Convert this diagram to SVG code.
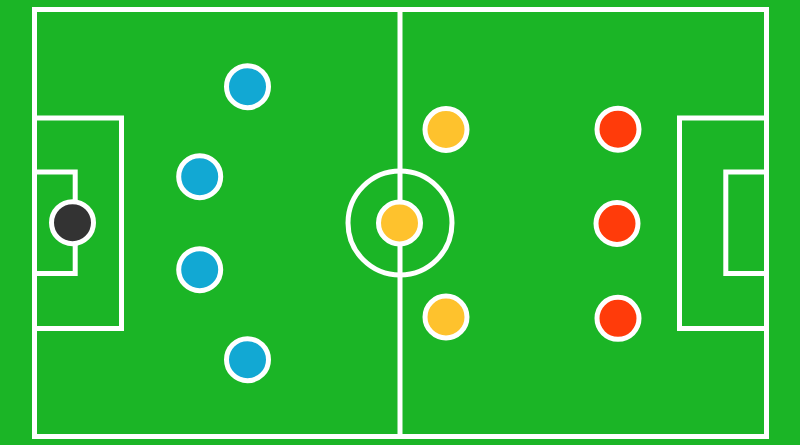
<svg xmlns="http://www.w3.org/2000/svg" width="800" height="445" viewBox="0 0 800 445">
<style>
.line{fill:none;stroke:#ffffff;stroke-width:5}
.p{stroke:#ffffff;stroke-width:5}
.blue{fill:#12A8D3}
.yellow{fill:#FEC22D}
.red{fill:#FF3B0A}
.gk{fill:#333333}
</style>
<rect x="0" y="0" width="800" height="445" fill="#1BB526"/>
<g id="pitch">
<rect class="line" x="34.5" y="9.5" width="732" height="427"/>
<line class="line" x1="400" y1="9.5" x2="400" y2="436.5"/>
<circle class="line" cx="400" cy="223" r="52"/>
<rect class="line" x="34.5" y="118" width="87" height="210.5"/>
<rect class="line" x="34.5" y="172" width="40.7" height="101.5"/>
<rect class="line" x="679.5" y="118" width="87" height="210.5"/>
<rect class="line" x="725.8" y="172" width="40.7" height="101.5"/>
</g>
<g id="players">
<circle id="gk" class="p gk" cx="72.5" cy="222.7" r="21"/>
<circle id="b1" class="p blue" cx="247.5" cy="86.7" r="21"/>
<circle id="b2" class="p blue" cx="199.7" cy="176.7" r="21"/>
<circle id="b3" class="p blue" cx="199.7" cy="269.7" r="21"/>
<circle id="b4" class="p blue" cx="247.5" cy="359.7" r="21"/>
<circle id="y1" class="p yellow" cx="446" cy="129.5" r="21"/>
<circle id="y2" class="p yellow" cx="399.5" cy="223" r="21"/>
<circle id="y3" class="p yellow" cx="446" cy="317" r="21"/>
<circle id="r1" class="p red" cx="618" cy="129.2" r="21"/>
<circle id="r2" class="p red" cx="617" cy="223.5" r="21"/>
<circle id="r3" class="p red" cx="618" cy="318.3" r="21"/>
</g>
</svg>
